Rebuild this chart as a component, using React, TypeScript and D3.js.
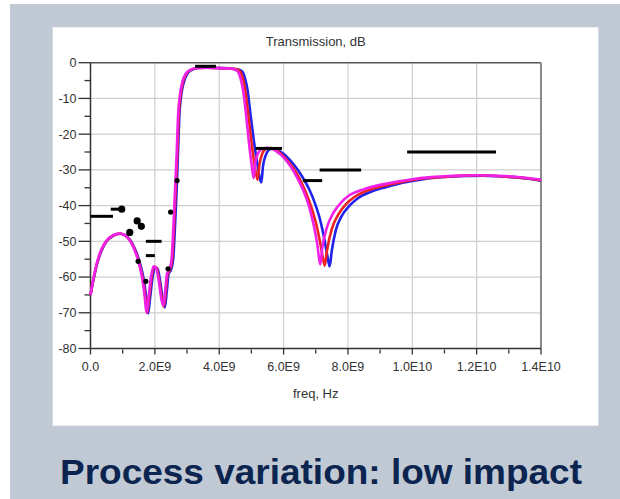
import React from "react";
import * as d3 from "d3";

// Frequency in GHz, transmission in dB
const magentaCurve: [number, number][] = [
  [0.0, -65], [0.1, -60], [0.2, -56], [0.35, -52], [0.5, -49.8], [0.7, -48.3], [0.9, -47.8], [1.05, -48.2],
  [1.2, -49.5], [1.35, -52], [1.5, -56], [1.6, -60], [1.68, -65], [1.74, -70], [1.8, -66], [1.88, -60],
  [1.96, -57], [2.04, -57.5], [2.12, -61], [2.2, -66], [2.26, -68], [2.32, -64], [2.38, -59], [2.45, -58],
  [2.52, -55], [2.58, -45], [2.63, -35], [2.68, -25], [2.72, -15], [2.78, -9], [2.85, -5.5], [2.95, -3.2],
  [3.1, -2], [3.3, -1.5], [3.6, -1.4], [3.9, -1.5], [4.2, -1.6], [4.45, -1.8], [4.58, -2.5], [4.66, -4.3],
  [4.74, -7.6], [4.84, -15], [4.92, -22], [5.0, -28], [5.07, -32.3], [5.12, -28], [5.2, -25.5], [5.35, -24],
  [5.5, -23.8], [5.65, -24.2], [5.8, -25], [6.0, -26.5], [6.2, -28.8], [6.4, -31.8], [6.6, -35.5], [6.8, -40.5],
  [6.95, -46], [7.05, -51], [7.14, -56.5], [7.2, -52], [7.35, -46], [7.55, -42], [7.8, -39], [8.0, -37.4],
  [8.5, -35.4], [9.0, -34.2], [9.5, -33.3], [10.0, -32.6], [10.5, -32.1], [11.0, -31.8], [11.5, -31.6],
  [12.0, -31.5], [12.5, -31.6], [13.0, -31.8], [13.5, -32.2], [14.0, -32.7],
];

const redCurve: [number, number][] = [
  [0.0, -65], [0.1, -60.2], [0.2, -56.2], [0.35, -52.2], [0.5, -49.9], [0.7, -48.4], [0.91, -47.85], [1.06, -48.25],
  [1.22, -49.6], [1.37, -52.2], [1.52, -56.2], [1.62, -60.2], [1.7, -65.2], [1.76, -70], [1.82, -66], [1.9, -60],
  [1.98, -57.1], [2.06, -57.6], [2.14, -61.2], [2.22, -66.2], [2.28, -68.2], [2.34, -64], [2.4, -59], [2.47, -58],
  [2.54, -55], [2.6, -45], [2.65, -35], [2.7, -25], [2.74, -15], [2.8, -9], [2.87, -5.5], [2.97, -3.2],
  [3.12, -2], [3.32, -1.5], [3.62, -1.4], [3.92, -1.5], [4.25, -1.6], [4.52, -1.8], [4.65, -2.5], [4.73, -4.3],
  [4.81, -7.6], [4.91, -15], [5.0, -22], [5.09, -28], [5.19, -32.8], [5.25, -28.5], [5.33, -25.6], [5.46, -24.1],
  [5.6, -23.9], [5.75, -24.4], [5.92, -25.5], [6.1, -27.2], [6.3, -29.5], [6.5, -32.5], [6.7, -36.5], [6.9, -41.5],
  [7.05, -46.5], [7.15, -51], [7.22, -54.5], [7.28, -56.8], [7.35, -52.5], [7.5, -46.5], [7.7, -42.5], [7.95, -39.5],
  [8.2, -37.6], [8.6, -35.8], [9.1, -34.5], [9.6, -33.5], [10.1, -32.7], [10.6, -32.2], [11.1, -31.9], [11.6, -31.6],
  [12.1, -31.5], [12.6, -31.7], [13.1, -32], [13.6, -32.4], [14.0, -32.9],
];

const blueCurve: [number, number][] = [
  [0.0, -65], [0.1, -60.5], [0.2, -56.5], [0.35, -52.5], [0.5, -50], [0.7, -48.5], [0.92, -47.9], [1.08, -48.3],
  [1.25, -49.8], [1.4, -52.5], [1.55, -56.5], [1.65, -60.5], [1.73, -65.5], [1.79, -70.2], [1.85, -66], [1.93, -60],
  [2.01, -57.2], [2.09, -57.8], [2.17, -61.5], [2.25, -66.5], [2.31, -68.5], [2.37, -64], [2.43, -59], [2.5, -58],
  [2.57, -55], [2.63, -45], [2.68, -35], [2.72, -25], [2.76, -15], [2.82, -9], [2.9, -5.5], [3.0, -3.2],
  [3.15, -2], [3.35, -1.5], [3.65, -1.4], [3.95, -1.5], [4.3, -1.6], [4.6, -1.9], [4.72, -2.5], [4.8, -4.3],
  [4.88, -7.6], [4.98, -15], [5.08, -22], [5.18, -28], [5.31, -33.5], [5.36, -29], [5.45, -25.8], [5.58, -24.2],
  [5.72, -24], [5.85, -24.6], [6.0, -25.5], [6.2, -27.3], [6.4, -29.5], [6.6, -32.2], [6.8, -35.5], [7.0, -40],
  [7.15, -44.5], [7.27, -49.5], [7.36, -54], [7.43, -57], [7.5, -52.5], [7.62, -47], [7.8, -43], [8.05, -40],
  [8.3, -38], [8.7, -36.2], [9.2, -34.8], [9.7, -33.6], [10.2, -32.8], [10.7, -32.2], [11.2, -31.9], [11.7, -31.7],
  [12.2, -31.6], [12.7, -31.8], [13.2, -32.1], [13.6, -32.5], [14.0, -33],
];

// Spec mask segments: [fStart GHz, fEnd GHz, dB]
const maskSegments: [number, number, number][] = [
  [0.0, 0.7, -43], [0.63, 0.92, -41], [1.72, 2.21, -50], [1.72, 2.0, -54], [3.25, 3.9, -1],
  [5.13, 5.95, -24], [6.6, 7.2, -33], [7.12, 8.41, -30], [9.84, 12.6, -25],
];

// Marker dots: [f GHz, dB, large?]
const markerDots: [number, number, number][] = [
  [0.97, -41, 1], [1.22, -47.5, 1], [1.45, -44.3, 1], [1.58, -45.8, 1], [1.48, -55.6, 0],
  [1.72, -61.2, 0], [2.41, -57.7, 0], [2.49, -41.8, 0], [2.69, -33, 0],
];

const xTickValues = [0, 2, 4, 6, 8, 10, 12, 14];
const xTickLabels = ["0.0", "2.0E9", "4.0E9", "6.0E9", "8.0E9", "1.0E10", "1.2E10", "1.4E10"];
const yTickValues = [0, -10, -20, -30, -40, -50, -60, -70, -80];

const titleText = "Transmission, dB";
const xAxisTitle = "freq, Hz";
const captionText = "Process variation: low impact";

export default function App() {
  const W = 620, H = 499;
  const left = 90.5, right = 541, top = 62.7, bottom = 348.5;
  const x = d3.scaleLinear().domain([0, 14]).range([left, right]);
  const y = d3.scaleLinear().domain([-80, 0]).range([bottom, top]);
  const line = d3.line<[number, number]>().x((d) => x(d[0])).y((d) => y(d[1])).curve(d3.curveMonotoneX);
  const font = "'Liberation Sans', Arial, sans-serif";
  const minorX = d3.range(1, 14, 2);
  const minorY = d3.range(-75, 0, 10);

  return (
    <svg width={W} height={H} style={{ position: "absolute", left: 0, top: 0 }} fontFamily={font}>
      <rect x={0} y={0} width={W} height={H} fill="#ffffff" />
      <rect x={10} y={4} width={W - 10} height={H - 4} fill="#c1cad4" />
      <rect x={52.7} y={27.3} width={598.3 - 52.7} height={425.7 - 27.3} fill="#ffffff" />

      {/* grid */}
      {xTickValues.slice(1, -1).map((v) => (
        <line key={"gx" + v} x1={x(v)} x2={x(v)} y1={top} y2={bottom} stroke="#cfcfcf" strokeWidth={1.2} />
      ))}
      {yTickValues.slice(1, -1).map((v) => (
        <line key={"gy" + v} x1={left} x2={right} y1={y(v)} y2={y(v)} stroke="#cfcfcf" strokeWidth={1.2} />
      ))}

      {/* frame */}
      <line x1={left} x2={right} y1={top} y2={top} stroke="#555" strokeWidth={1.5} />
      <line x1={right} x2={right} y1={top} y2={bottom} stroke="#8a8a8a" strokeWidth={2} />
      <line x1={left} x2={left} y1={top} y2={bottom} stroke="#333" strokeWidth={1.5} />
      <line x1={left} x2={right} y1={bottom} y2={bottom} stroke="#333" strokeWidth={1.5} />

      {/* y ticks */}
      {yTickValues.map((v) => (
        <g key={"yt" + v}>
          <line x1={left - 12} x2={left} y1={y(v)} y2={y(v)} stroke="#333" strokeWidth={1.3} />
          <text x={left - 14} y={y(v)} dy="0.35em" textAnchor="end" fontSize={12.5} fill="#333">
            {v}
          </text>
        </g>
      ))}
      {minorY.map((v) => (
        <line key={"ym" + v} x1={left - 6} x2={left} y1={y(v)} y2={y(v)} stroke="#333" strokeWidth={1.3} />
      ))}

      {/* x ticks */}
      {xTickValues.map((v, i) => (
        <g key={"xt" + v}>
          <line x1={x(v)} x2={x(v)} y1={bottom} y2={bottom + 6} stroke="#333" strokeWidth={1.3} />
          <text x={x(v)} y={bottom + 22} textAnchor="middle" fontSize={12.5} fill="#333">
            {xTickLabels[i]}
          </text>
        </g>
      ))}
      {minorX.map((v) => (
        <line key={"xm" + v} x1={x(v)} x2={x(v)} y1={bottom + 1} y2={bottom + 5} stroke="#333" strokeWidth={1.3} />
      ))}

      {/* curves */}
      <g fill="none" strokeWidth={2.6} strokeLinejoin="round">
        <path d={line(blueCurve) || ""} stroke="#2222ee" />
        <path d={line(redCurve) || ""} stroke="#ee2222" />
        <path d={line(magentaCurve) || ""} stroke="#f020e8" />
      </g>

      {/* mask */}
      {maskSegments.map((s, i) => (
        <line key={"m" + i} x1={x(s[0])} x2={x(s[1])} y1={y(s[2])} y2={y(s[2])} stroke="#000" strokeWidth={3} />
      ))}
      {markerDots.map((d, i) => (
        <circle key={"d" + i} cx={x(d[0])} cy={y(d[1])} r={d[2] ? 3.6 : 2.6} fill="#000" />
      ))}

      <text x={(left + right) / 2} y={46} textAnchor="middle" fontSize={13} fill="#333">
        {titleText}
      </text>
      <text x={(left + right) / 2} y={398} textAnchor="middle" fontSize={13} fill="#333">
        {xAxisTitle}
      </text>
      <text x={321} y={484} textAnchor="middle" fontSize={35} fontWeight="bold" fill="#0b2550" textLength={522} lengthAdjust="spacingAndGlyphs">
        {captionText}
      </text>
    </svg>
  );
}
